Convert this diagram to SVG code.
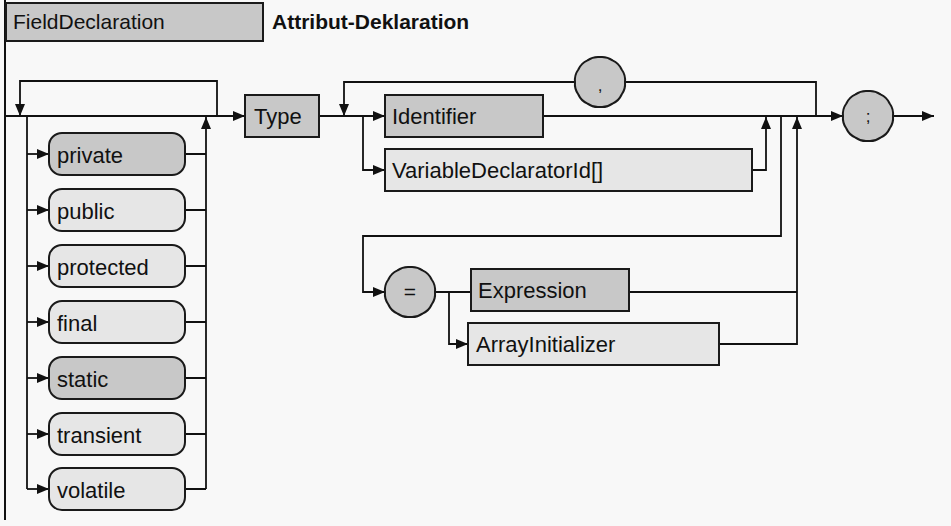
<svg xmlns="http://www.w3.org/2000/svg" width="951" height="526" viewBox="0 0 951 526">
  <style>
    .bg { fill: #f8f8f8; }
    .dark { fill: #c8c8c8; stroke: #1a1a1a; stroke-width: 2; }
    .light { fill: #e6e6e6; stroke: #1a1a1a; stroke-width: 2; }
    .lbl { font-family: "Liberation Sans", Arial, sans-serif; font-size: 22px; fill: #111; }
    .hdr { font-family: "Liberation Sans", Arial, sans-serif; font-size: 21px; fill: #111; }
    .sym { font-family: "Liberation Sans", Arial, sans-serif; font-size: 17px; fill: #111; text-anchor: middle; }
    .eq { font-family: "Liberation Sans", Arial, sans-serif; font-size: 21px; fill: #111; text-anchor: middle; }
    .title { font-family: "Liberation Sans", Arial, sans-serif; font-size: 21px; font-weight: bold; fill: #111; }
    .wire { fill: none; stroke: #111; stroke-width: 1.8; }
    .arr { fill: none; stroke: #111; stroke-width: 1.8; marker-end: url(#head); }
  </style>
  <defs>
    <marker id="head" viewBox="0 0 12 10" refX="12" refY="5" markerWidth="12" markerHeight="10" markerUnits="userSpaceOnUse" orient="auto">
      <path d="M0,0 L12,5 L0,10 Z" fill="#111"/>
    </marker>
    <!-- scalloped terminal symbol, radius 25 -->
    <path id="blob" d="M25,0 A18,18 0 0 1 21.65,12.5 A18,18 0 0 1 12.5,21.65 A18,18 0 0 1 0,25 A18,18 0 0 1 -12.5,21.65 A18,18 0 0 1 -21.65,12.5 A18,18 0 0 1 -25,0 A18,18 0 0 1 -21.65,-12.5 A18,18 0 0 1 -12.5,-21.65 A18,18 0 0 1 0,-25 A18,18 0 0 1 12.5,-21.65 A18,18 0 0 1 21.65,-12.5 A18,18 0 0 1 25,0 Z"/>
  </defs>

  <rect class="bg" x="0" y="0" width="951" height="526"/>
  <line x1="5" y1="0" x2="5" y2="520" stroke="#111" stroke-width="2"/>

  <g id="header">
    <rect class="dark" x="6" y="3" width="257" height="38"/>
    <text class="hdr" x="13" y="29">FieldDeclaration</text>
    <text class="title" x="272" y="29">Attribut-Deklaration</text>
  </g>

  <g id="connectors">
    <!-- entry and bypass of the modifier list -->
    <path class="arr" d="M5,116 H245"/>
    <path class="arr" d="M217,116 V81 H20 V116"/>
    <!-- modifier fan-out -->
    <path class="wire" d="M27,116 V489"/>
    <path class="arr" d="M27,154 H49"/>
    <path class="arr" d="M27,210 H49"/>
    <path class="arr" d="M27,266 H49"/>
    <path class="arr" d="M27,322 H49"/>
    <path class="arr" d="M27,378 H49"/>
    <path class="arr" d="M27,434 H49"/>
    <path class="arr" d="M27,489 H49"/>
    <!-- modifier fan-in -->
    <path class="wire" d="M185,154 H206 M185,210 H206 M185,266 H206 M185,322 H206 M185,378 H206 M185,434 H206 M185,489 H206"/>
    <path class="arr" d="M206,489 V117"/>
    <!-- declarators -->
    <path class="arr" d="M319,116 H385"/>
    <path class="arr" d="M363,116 V170 H385"/>
    <path class="wire" d="M816,116 V82 H625"/>
    <path class="arr" d="M575,82 H344 V116"/>
    <path class="arr" d="M543,116 H843"/>
    <path class="arr" d="M752,170 H766 V117"/>
    <!-- initializer -->
    <path class="arr" d="M781,116 V236 H363 V292 H385"/>
    <path class="wire" d="M435,292 H471"/>
    <path class="arr" d="M449,292 V344 H468"/>
    <path class="wire" d="M629,292 H797"/>
    <path class="arr" d="M719,344 H797 V117"/>
    <!-- exit -->
    <path class="arr" d="M893,116 H934"/>
  </g>

  <g id="node-type">
    <rect class="dark" x="245" y="95" width="74" height="42"/>
    <text class="lbl" x="254" y="124">Type</text>
  </g>

  <g id="node-private">
    <rect class="dark" x="49" y="133" width="136" height="42" rx="13"/>
    <text class="lbl" x="57" y="163">private</text>
  </g>
  <g id="node-public">
    <rect class="light" x="49" y="189" width="136" height="42" rx="13"/>
    <text class="lbl" x="57" y="219">public</text>
  </g>
  <g id="node-protected">
    <rect class="light" x="49" y="245" width="136" height="42" rx="13"/>
    <text class="lbl" x="57" y="275">protected</text>
  </g>
  <g id="node-final">
    <rect class="light" x="49" y="301" width="136" height="42" rx="13"/>
    <text class="lbl" x="57" y="331">final</text>
  </g>
  <g id="node-static">
    <rect class="dark" x="49" y="357" width="136" height="42" rx="13"/>
    <text class="lbl" x="57" y="387">static</text>
  </g>
  <g id="node-transient">
    <rect class="light" x="49" y="413" width="136" height="42" rx="13"/>
    <text class="lbl" x="57" y="443">transient</text>
  </g>
  <g id="node-volatile">
    <rect class="light" x="49" y="468" width="136" height="42" rx="13"/>
    <text class="lbl" x="57" y="498">volatile</text>
  </g>

  <g id="node-identifier">
    <rect class="dark" x="385" y="95" width="158" height="42"/>
    <text class="lbl" x="392" y="124">Identifier</text>
  </g>
  <g id="node-vardeclid">
    <rect class="light" x="385" y="149" width="367" height="42"/>
    <text class="lbl" x="392" y="178">VariableDeclaratorId[]</text>
  </g>

  <g id="node-comma">
    <use href="#blob" x="600" y="82" class="dark"/>
    <text class="sym" x="600" y="91">,</text>
  </g>
  <g id="node-semicolon">
    <use href="#blob" x="868" y="116" class="dark"/>
    <text class="sym" x="868" y="122">;</text>
  </g>
  <g id="node-equals">
    <use href="#blob" x="410" y="292" class="dark"/>
    <text class="eq" x="410" y="299">=</text>
  </g>

  <g id="node-expression">
    <rect class="dark" x="471" y="269" width="158" height="42"/>
    <text class="lbl" x="478" y="298">Expression</text>
  </g>
  <g id="node-arrayinit">
    <rect class="light" x="468" y="323" width="251" height="42"/>
    <text class="lbl" x="476" y="352">ArrayInitializer</text>
  </g>
</svg>
